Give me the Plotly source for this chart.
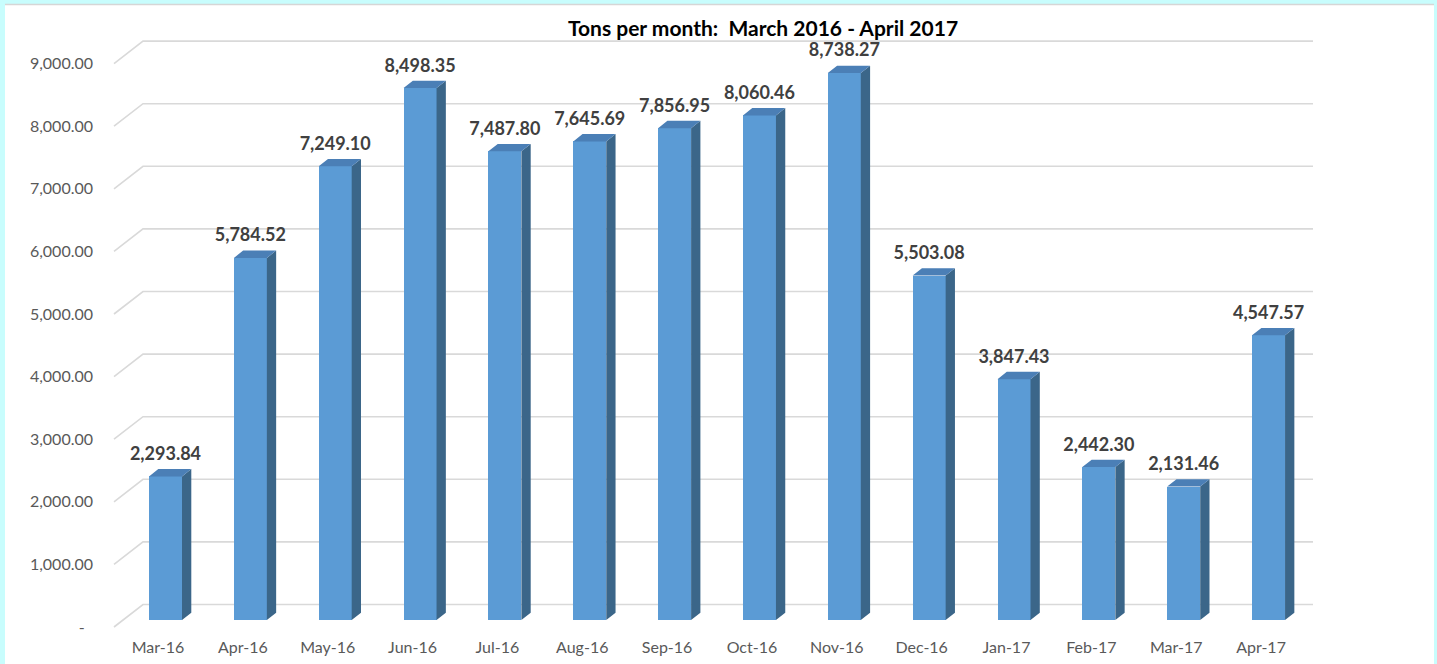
import plotly.graph_objects as go

# ---- data ----
categories = ["Mar-16", "Apr-16", "May-16", "Jun-16", "Jul-16", "Aug-16", "Sep-16",
              "Oct-16", "Nov-16", "Dec-16", "Jan-17", "Feb-17", "Mar-17", "Apr-17"]
tons = [2293.84, 5784.52, 7249.10, 8498.35, 7487.80, 7645.69, 7856.95,
        8060.46, 8738.27, 5503.08, 3847.43, 2442.30, 2131.46, 4547.57]
y_ticks = [0, 1000, 2000, 3000, 4000, 5000, 6000, 7000, 8000, 9000]
y_tick_text = ["-\u00a0\u00a0"] + [f"{v:,.2f}" for v in y_ticks[1:]]
title = "Tons per month:  March 2016 - April 2017"

# ---- geometry / style (pseudo-3D) ----
W, H = 1437, 664
ML, MR, MT, MB = 100, 100, 20, 28
PX_PER_CAT = 84.85
PX_PER_UNIT = 0.0626
X0_PX = 158          # pixel of category 0
Y0_PX = 627          # pixel of front-plane value 0
plot_w = W - ML - MR
plot_h = H - MT - MB
x_range = [(ML - X0_PX) / PX_PER_CAT, (W - MR - X0_PX) / PX_PER_CAT]
y_range = [(Y0_PX - (H - MB)) / PX_PER_UNIT, (Y0_PX - MT) / PX_PER_UNIT]

BASE = 7 / PX_PER_UNIT           # bar floor sits a bit behind the front edge
BAR_OFF = -9 / PX_PER_CAT
BAR_W = 33 / PX_PER_CAT
DEPTH_DX = 9.3 / PX_PER_CAT
DEPTH_DY = 7.3 / PX_PER_UNIT
BACK_DX = 29 / PX_PER_CAT
BACK_DV = 22.5 / PX_PER_UNIT
GRID_LEFT = (114 - X0_PX) / PX_PER_CAT
GRID_RIGHT = (1313 - X0_PX) / PX_PER_CAT
LABEL_DV = 21 / PX_PER_UNIT

FRONT = "#5b9bd5"
SIDE = "#3b6689"
TOP = "#4b7fb6"
GRID = "#d9d9d9"
FONT = "Lato"

xs = list(range(len(categories)))

fig = go.Figure()

# front faces
fig.add_trace(go.Bar(
    x=xs, y=tons, base=[BASE] * len(tons), width=BAR_W, offset=BAR_OFF,
    marker=dict(color=FRONT, line=dict(width=0)), hoverinfo="skip", showlegend=False,
))

# side and top faces
side_x, side_y, top_x, top_y = [], [], [], []
for i, v in zip(xs, tons):
    xl = i + BAR_OFF
    xr = xl + BAR_W
    yt = BASE + v
    side_x += [xr, xr, xr + DEPTH_DX, xr + DEPTH_DX, xr, None]
    side_y += [BASE, yt, yt + DEPTH_DY, BASE + DEPTH_DY, BASE, None]
    top_x += [xl, xr, xr + DEPTH_DX, xl + DEPTH_DX, xl, None]
    top_y += [yt, yt, yt + DEPTH_DY, yt + DEPTH_DY, yt, None]

fig.add_trace(go.Scatter(x=side_x, y=side_y, fill="toself", fillcolor=SIDE, mode="lines",
                         line=dict(width=0, color=SIDE), hoverinfo="skip", showlegend=False))
fig.add_trace(go.Scatter(x=top_x, y=top_y, fill="toself", fillcolor=TOP, mode="lines",
                         line=dict(width=0, color=TOP), hoverinfo="skip", showlegend=False))

# data labels
fig.add_trace(go.Scatter(
    x=[i + BAR_OFF + BAR_W / 2 for i in xs],
    y=[BASE + v + LABEL_DV for v in tons],
    text=[f"{v:,.2f}" for v in tons], mode="text", textposition="middle center",
    textfont=dict(family=FONT, size=18, color="#404040", weight="bold"),
    hoverinfo="skip", showlegend=False,
))

shapes = []
# white card on cyan background
px2paper_x = lambda px: (px - ML) / plot_w
px2paper_y = lambda py: (H - MB - py) / plot_h
shapes.append(dict(type="rect", xref="paper", yref="paper", layer="below",
                   x0=px2paper_x(5), x1=px2paper_x(1434), y0=px2paper_y(664), y1=px2paper_y(4),
                   fillcolor="white", line=dict(width=0)))
shapes.append(dict(type="line", xref="paper", yref="paper", layer="below",
                   x0=px2paper_x(5), x1=px2paper_x(1434), y0=px2paper_y(4.5), y1=px2paper_y(4.5),
                   line=dict(color="#d6d6d6", width=1.5)))
# pseudo-3D gridlines (front diagonal + back wall line)
for v in y_ticks:
    path = (f"M {GRID_LEFT},{v} L {GRID_LEFT + BACK_DX},{v + BACK_DV} "
            f"L {GRID_RIGHT},{v + BACK_DV}")
    shapes.append(dict(type="path", xref="x", yref="y", layer="below", path=path,
                       line=dict(color=GRID, width=1.6)))

fig.update_layout(
    width=W, height=H,
    margin=dict(l=ML, r=MR, t=MT, b=MB, autoexpand=False),
    paper_bgcolor="#c8fdfd",
    plot_bgcolor="rgba(0,0,0,0)",
    shapes=shapes,
    title=dict(text=title, x=763 / W, y=1 - 29 / H, xanchor="center", yanchor="middle",
               font=dict(family=FONT, size=21, color="black", weight="bold")),
    xaxis=dict(range=x_range, tickvals=xs, ticktext=categories, showgrid=False,
               zeroline=False, showline=False, ticks="", automargin=False,
               tickfont=dict(family=FONT, size=16, color="#595959")),
    yaxis=dict(range=y_range, tickvals=y_ticks, ticktext=y_tick_text, showgrid=False,
               zeroline=False, showline=False, ticks="", ticklabelstandoff=6, automargin=False,
               tickfont=dict(family=FONT, size=16, color="#595959")),
    bargap=0,
)

fig.write_html("out.html", config={"displayModeBar": False},
               post_script="document.body.style.margin='0';")
